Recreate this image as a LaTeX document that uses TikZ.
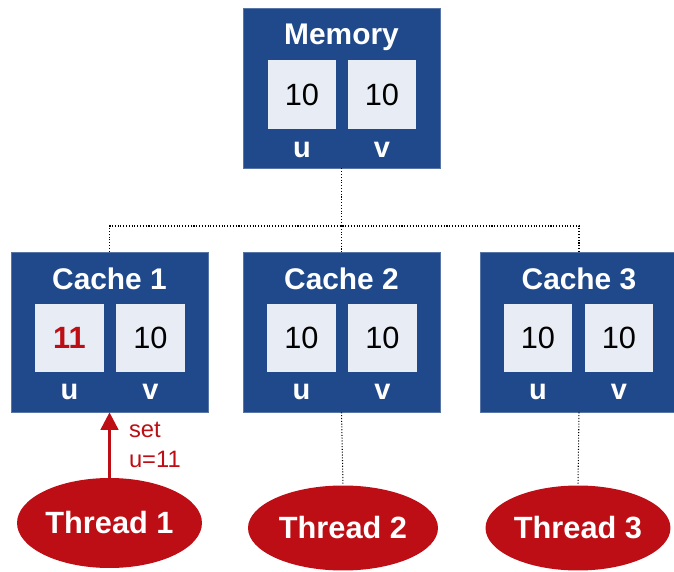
\documentclass[tikz,border=0pt]{standalone}
\usepackage{fontspec}
\setmainfont{Liberation Sans}
\usetikzlibrary{arrows.meta, shapes.geometric}

\definecolor{boxblue}{RGB}{31,73,138}
\definecolor{cellgray}{RGB}{232,236,245}
\definecolor{threadred}{RGB}{188,14,20}

\begin{document}
\begin{tikzpicture}[x=0.02cm, y=-0.02cm,
  store/.style={fill=boxblue, draw=boxblue!75!white, minimum width=3.94cm, minimum height=3.2cm, inner sep=0},
  cell/.style={fill=cellgray, minimum width=1.38cm, minimum height=1.37cm, inner sep=0, font=\fontsize{17.5}{20}\selectfont},
  title/.style={text=white, font=\bfseries\fontsize{17}{19}\selectfont},
  var/.style={text=white, font=\bfseries\fontsize{16.5}{18}\selectfont},
  thread/.style={ellipse, fill=threadred, text=white, inner sep=0, font=\bfseries\fontsize{17.5}{20}\selectfont},
  link/.style={densely dotted, semithick}]

\useasboundingbox (0,0) rectangle (674,572);

% Define nodes
\node[store] (mem) at (341.5,88) {};
\node[title] (memtitle) at (341.5,37) {Memory};
\node[cell] (memu) at (302,94.5) {10};
\node[cell] (memv) at (382,94.5) {10};
\node[var] at (302,150) {u};
\node[var] at (382,150) {v};

\node[store] (cache1) at (109.5,332) {};
\node[title] at (109.5,279) {Cache 1};
\node[cell, text=threadred, font=\bfseries\fontsize{17.5}{20}\selectfont] (c1u) at (69.5,338) {11};
\node[cell] (c1v) at (150.5,338) {10};
\node[var] at (69.5,392) {u};
\node[var] at (150.5,392) {v};

\node[store] (cache2) at (341.5,332) {};
\node[title] at (341.5,279) {Cache 2};
\node[cell] (c2u) at (301.5,338) {10};
\node[cell] (c2v) at (382.5,338) {10};
\node[var] at (301.5,392) {u};
\node[var] at (382.5,392) {v};

\node[store] (cache3) at (579,332) {};
\node[title] at (579,279) {Cache 3};
\node[cell] (c3u) at (538,338) {10};
\node[cell] (c3v) at (619,338) {10};
\node[var] at (538,392) {u};
\node[var] at (619,392) {v};

\node[thread, minimum width=3.7cm, minimum height=1.8cm] (t1) at (109.5,523) {Thread 1};
\node[thread, minimum width=3.8cm, minimum height=1.7cm] (t2) at (343,528) {Thread 2};
\node[thread, minimum width=3.7cm, minimum height=1.7cm] (t3) at (578,528) {Thread 3};

\coordinate (split) at (341.5,226);

% Links between memory and caches
\draw[link] (mem.south) -- (split)
  (cache1.north) |- (split) -| (cache3.north)
  (split) -- (cache2.north);
\draw[link] (cache2.south) -- (t2.north)
  (cache3.south) -- (t3.north);

% Write from thread 1
\draw[threadred, line width=1.6pt, -{Triangle[length=10pt, width=10pt]}] (t1.north) -- (cache1.south)
  node[pos=0.5, right=7pt, align=left, text=threadred, font=\fontsize{13.5}{17}\selectfont] {set\\u=11};

\end{tikzpicture}
\end{document}
